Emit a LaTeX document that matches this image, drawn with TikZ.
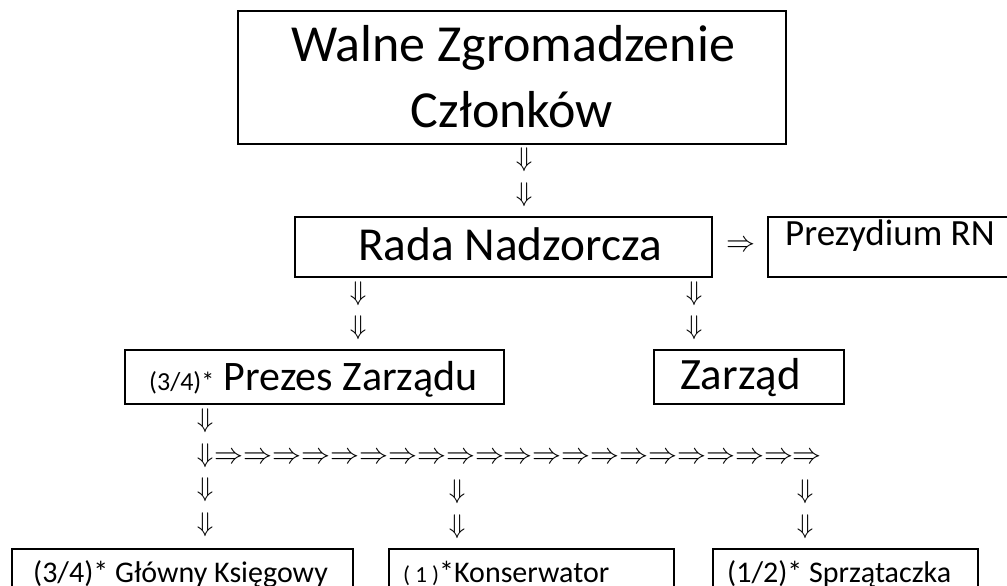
\documentclass[tikz,border=0pt]{standalone}
\usepackage{fontspec}
\setmainfont{Carlito}
\begin{document}
\begin{tikzpicture}[x=1pt,y=-1pt,
  box/.style={draw, line width=2.4pt, anchor=north west, inner sep=0pt},
  lbl/.style={anchor=base west, inner sep=0pt},
  dn/.style={inner sep=0pt, scale=2.7},
  rt/.style={inner sep=0pt, scale=2.9}]
\useasboundingbox (0,0) rectangle (1007,586);
\clip (0,0) rectangle (1007,586);
% boxes
\node[box, minimum width=548, minimum height=133] (walne) at (237,10) {};
\node[box, minimum width=417, minimum height=60] (rada) at (294,216) {};
\node[box, minimum width=262, minimum height=60] (prez) at (767,216) {};
\node[box, minimum width=379, minimum height=54] (prezes) at (124,349) {};
\node[box, minimum width=190, minimum height=54] (zarzad) at (653,349) {};
\node[box, minimum width=341, minimum height=70] (glowny) at (11,548) {};
\node[box, minimum width=285, minimum height=70] (kons) at (388,548) {};
\node[box, minimum width=265, minimum height=70] (sprz) at (712,548) {};
% texts
\node[lbl, anchor=base, font=\fontsize{52}{52}\selectfont] (walneA) at (513,62) {Walne Zgromadzenie};
\node[lbl, anchor=base, font=\fontsize{52}{52}\selectfont] (walneB) at (512,127) {Członków};
\node[lbl, font=\fontsize{47.3}{50}\selectfont] (radaT) at (358,260) {Rada Nadzorcza};
\node[lbl, font=\fontsize{37}{40}\selectfont] (prezT) at (785,245) {Prezydium RN};
\node[lbl, font=\fontsize{42}{44}\selectfont] (prezesT) at (149,390) {{\fontsize{26}{30}\selectfont(3/4)*} Prezes Zarządu};
\node[lbl, font=\fontsize{44.8}{46}\selectfont] (zarzadT) at (680,389) {Zarząd};
\node[lbl, font=\fontsize{30}{32}\selectfont] (glownyT) at (33,582) {(3/4)* Główny Księgowy};
\node[lbl, font=\fontsize{30}{32}\selectfont] (konsT) at (403,582) {{\fontsize{23}{26}\selectfont( 1 )}*Konserwator};
\node[lbl, font=\fontsize{30}{32}\selectfont] (sprzT) at (727,582) {(1/2)* Sprzątaczka};
% arrows
\node[dn] (a1) at (524,160) {$\Downarrow$};
\node[dn] (a2) at (524,195) {$\Downarrow$};
\node[rt] (r0) at (741,246) {$\Rightarrow$};
\node[dn] (b1) at (358,294) {$\Downarrow$};
\node[dn] (b2) at (358,328) {$\Downarrow$};
\node[dn] (c1) at (694,294) {$\Downarrow$};
\node[dn] (c2) at (694,328) {$\Downarrow$};
\node[dn] (d1) at (205,421) {$\Downarrow$};
\node[dn] (d2) at (205,456) {$\Downarrow$};
\node[dn] (d3) at (205,490) {$\Downarrow$};
\node[dn] (d4) at (205,525) {$\Downarrow$};
\foreach \i in {0,...,20}{
  \node[rt] (row\i) at ({215+28.9*(\i+0.5)},458) {$\Rightarrow$};
}
\node[dn] (e1) at (457,492) {$\Downarrow$};
\node[dn] (e2) at (457,527) {$\Downarrow$};
\node[dn] (f1) at (805,492) {$\Downarrow$};
\node[dn] (f2) at (805,527) {$\Downarrow$};
\end{tikzpicture}
\end{document}
